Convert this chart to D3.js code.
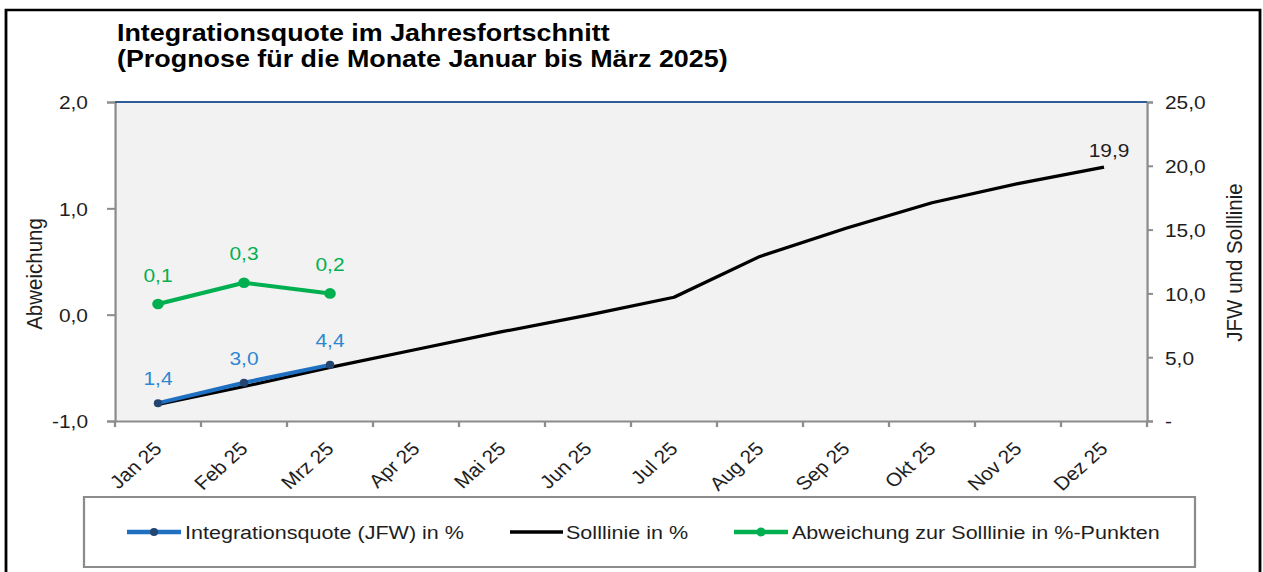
<!DOCTYPE html>
<html>
<head>
<meta charset="utf-8">
<script src="https://cdn.jsdelivr.net/npm/d3@7/dist/d3.min.js"></script>
<style>
  html, body { margin: 0; padding: 0; background: #fff; }
  svg { display: block; }
  text { font-family: "Liberation Sans", Arial, sans-serif; }
</style>
</head>
<body>
<div id="chart"></div>
<script>
// ---- data ----
const months = ["Jan 25", "Feb 25", "Mrz 25", "Apr 25", "Mai 25", "Jun 25", "Jul 25", "Aug 25", "Sep 25", "Okt 25", "Nov 25", "Dez 25"];
const jfwMonths = ["Jan 25", "Feb 25", "Mrz 25"];
const jfwValues = [1.4, 3.0, 4.4];
const sollValues = [1.3, 2.7, 4.2, 5.6, 7.0, 8.3, 9.7, 12.9, 15.1, 17.1, 18.6, 19.9];
const abwValues = [0.1, 0.3, 0.2];
const leftTicks = [-1, 0, 1, 2];
const rightTicks = [0, 5, 10, 15, 20, 25];
const titleLines = ["Integrationsquote im Jahresfortschnitt", "(Prognose für die Monate Januar bis März 2025)"];
const legendLabels = ["Integrationsquote (JFW) in %", "Solllinie in %", "Abweichung zur Solllinie in %-Punkten"];
const leftAxisTitle = "Abweichung";
const rightAxisTitle = "JFW und Solllinie";

// ---- layout (horizontal stretch of the original picture) ----
const W = 1263, H = 572, S = 1.12;
const VW = W / S;
const vx = x => x / S;

const svg = d3.select("#chart").append("svg")
  .attr("width", W).attr("height", H)
  .attr("viewBox", `0 0 ${VW} ${H}`)
  .attr("preserveAspectRatio", "none");

const fmt = v => d3.format(".1f")(v).replace(".", ",").replace("\u2212", "-");

const plot = { left: vx(115), right: vx(1147), top: 102, bottom: 421 };

const x = d3.scaleBand().domain(months).range([plot.left, plot.right]).paddingInner(0).paddingOuter(0);
const cx = m => x(m) + x.bandwidth() / 2;
const yL = d3.scaleLinear().domain([-1, 2]).range([plot.bottom, plot.top]);
const yR = d3.scaleLinear().domain([0, 25]).range([plot.bottom, plot.top]);

// outer frame
svg.append("rect").attr("x", vx(6)).attr("y", 10).attr("width", vx(1260) - vx(6)).attr("height", 580)
  .attr("fill", "#fff").attr("stroke", "#000").attr("stroke-width", 2.5);

// title
titleLines.forEach((t, i) => {
  svg.append("text").attr("x", vx(117)).attr("y", 41 + i * 26.5)
    .attr("font-size", 24).attr("font-weight", "bold").attr("fill", "#000").text(t);
});

// plot area
svg.append("rect").attr("x", plot.left).attr("y", plot.top)
  .attr("width", plot.right - plot.left).attr("height", plot.bottom - plot.top)
  .attr("fill", "#f2f2f2");

const axisColor = "#8c8c8c";
const labelColor = "#1e1e1e";

// left axis
const gL = svg.append("g").attr("transform", `translate(${plot.left},0)`)
  .call(d3.axisLeft(yL).tickValues(leftTicks).tickSize(vx(8)).tickPadding(vx(19)).tickFormat(fmt));
// right axis
const gR = svg.append("g").attr("transform", `translate(${plot.right},0)`)
  .call(d3.axisRight(yR).tickValues(rightTicks).tickSize(vx(6)).tickPadding(vx(12))
    .tickFormat(v => v === 0 ? "-" : fmt(v)));
[gL, gR].forEach(g => {
  g.select(".domain").attr("stroke", axisColor).attr("stroke-width", 2);
  g.selectAll(".tick line").attr("stroke", axisColor).attr("stroke-width", 2);
  g.selectAll(".tick text").attr("font-size", 18.67).attr("fill", labelColor)
    .attr("font-family", "Liberation Sans, Arial, sans-serif").attr("dy", "0.37em");
});

// bottom axis (labels via axis, ticks between categories)
const gB = svg.append("g").attr("transform", `translate(0,${plot.bottom})`)
  .call(d3.axisBottom(x).tickSize(0).tickPadding(0));
gB.select(".domain").attr("stroke", axisColor).attr("stroke-width", 2);
gB.selectAll(".tick text")
  .attr("font-size", 18.67).attr("fill", labelColor)
  .attr("font-family", "Liberation Sans, Arial, sans-serif")
  .attr("text-anchor", "end").attr("dy", 0).attr("y", 0)
  .attr("transform", `translate(${vx(5)},29) rotate(-45)`);
const bounds = months.map(m => x(m)).concat([plot.right]);
svg.append("g").selectAll("line").data(bounds).join("line")
  .attr("x1", d => d).attr("x2", d => d)
  .attr("y1", plot.bottom).attr("y2", plot.bottom + 6)
  .attr("stroke", axisColor).attr("stroke-width", 2);

// top border (blue)
svg.append("line").attr("x1", plot.left).attr("x2", plot.right)
  .attr("y1", plot.top).attr("y2", plot.top)
  .attr("stroke", "#2f5c97").attr("stroke-width", 2.2);

// axis titles
svg.append("text").attr("transform", `translate(${vx(42)},274) rotate(-90)`)
  .attr("text-anchor", "middle").attr("font-size", 20.5).attr("fill", labelColor).text(leftAxisTitle);
svg.append("text").attr("transform", `translate(${vx(1241.5)},262.5) rotate(-90)`)
  .attr("text-anchor", "middle").attr("font-size", 20.5).attr("fill", labelColor).text(rightAxisTitle);

// colours
const blue = "#1f70c1", blueMarker = "#24456f", blueLabel = "#2e86d1";
const green = "#00b050";

// Solllinie
const sollData = months.map((m, i) => ({ m, v: sollValues[i] }));
svg.append("path").datum(sollData)
  .attr("fill", "none").attr("stroke", "#000").attr("stroke-width", 3.2).attr("stroke-linejoin", "round")
  .attr("d", d3.line().x(d => cx(d.m)).y(d => yR(d.v)));
const lastSoll = sollData[sollData.length - 1];
svg.append("text").attr("x", cx(lastSoll.m) + vx(5)).attr("y", yR(lastSoll.v) - 10.5)
  .attr("text-anchor", "middle").attr("font-size", 18.67).attr("fill", labelColor).text(fmt(lastSoll.v));

// JFW
const jfwData = jfwMonths.map((m, i) => ({ m, v: jfwValues[i] }));
svg.append("path").datum(jfwData)
  .attr("fill", "none").attr("stroke", blue).attr("stroke-width", 4).attr("stroke-linejoin", "round")
  .attr("d", d3.line().x(d => cx(d.m)).y(d => yR(d.v)));
svg.append("g").selectAll("ellipse").data(jfwData).join("ellipse")
  .attr("cx", d => cx(d.m)).attr("cy", d => yR(d.v)).attr("rx", vx(4.2)).attr("ry", 4)
  .attr("fill", blueMarker);
svg.append("g").selectAll("text").data(jfwData).join("text")
  .attr("x", d => cx(d.m)).attr("y", d => yR(d.v) - 18)
  .attr("text-anchor", "middle").attr("font-size", 18.67).attr("fill", blueLabel)
  .text(d => fmt(d.v));

// Abweichung
const abwData = jfwMonths.map((m, i) => ({ m, v: abwValues[i] }));
svg.append("path").datum(abwData)
  .attr("fill", "none").attr("stroke", green).attr("stroke-width", 4).attr("stroke-linejoin", "round")
  .attr("d", d3.line().x(d => cx(d.m)).y(d => yL(d.v)));
svg.append("g").selectAll("ellipse").data(abwData).join("ellipse")
  .attr("cx", d => cx(d.m)).attr("cy", d => yL(d.v)).attr("rx", vx(5.8)).attr("ry", 5.3)
  .attr("fill", green);
svg.append("g").selectAll("text").data(abwData).join("text")
  .attr("x", d => cx(d.m)).attr("y", d => yL(d.v) - 22.5)
  .attr("text-anchor", "middle").attr("font-size", 18.67).attr("fill", green)
  .text(d => fmt(d.v));

// legend
svg.append("rect").attr("x", vx(84)).attr("y", 497).attr("width", vx(1195) - vx(84)).attr("height", 70)
  .attr("fill", "#fff").attr("stroke", axisColor).attr("stroke-width", 2);
const ly = 532;
const legendItems = [
  { label: legendLabels[0], color: blue, marker: blueMarker, mr: 4, x0: 127, x1: 181, tx: 185 },
  { label: legendLabels[1], color: "#000", marker: null, x0: 510, x1: 563, tx: 566 },
  { label: legendLabels[2], color: green, marker: green, mr: 4.5, x0: 734, x1: 788, tx: 792 }
];
const lg = svg.append("g");
legendItems.forEach(it => {
  lg.append("line").attr("x1", vx(it.x0)).attr("x2", vx(it.x1)).attr("y1", ly).attr("y2", ly)
    .attr("stroke", it.color).attr("stroke-width", it.color === "#000" ? 3.5 : 4.5);
  if (it.marker) {
    lg.append("ellipse").attr("cx", vx((it.x0 + it.x1) / 2)).attr("cy", ly)
      .attr("rx", vx(it.mr)).attr("ry", it.mr).attr("fill", it.marker);
  }
  lg.append("text").attr("x", vx(it.tx)).attr("y", ly + 7)
    .attr("font-size", 19.25).attr("fill", labelColor).text(it.label);
});
</script>
</body>
</html>
